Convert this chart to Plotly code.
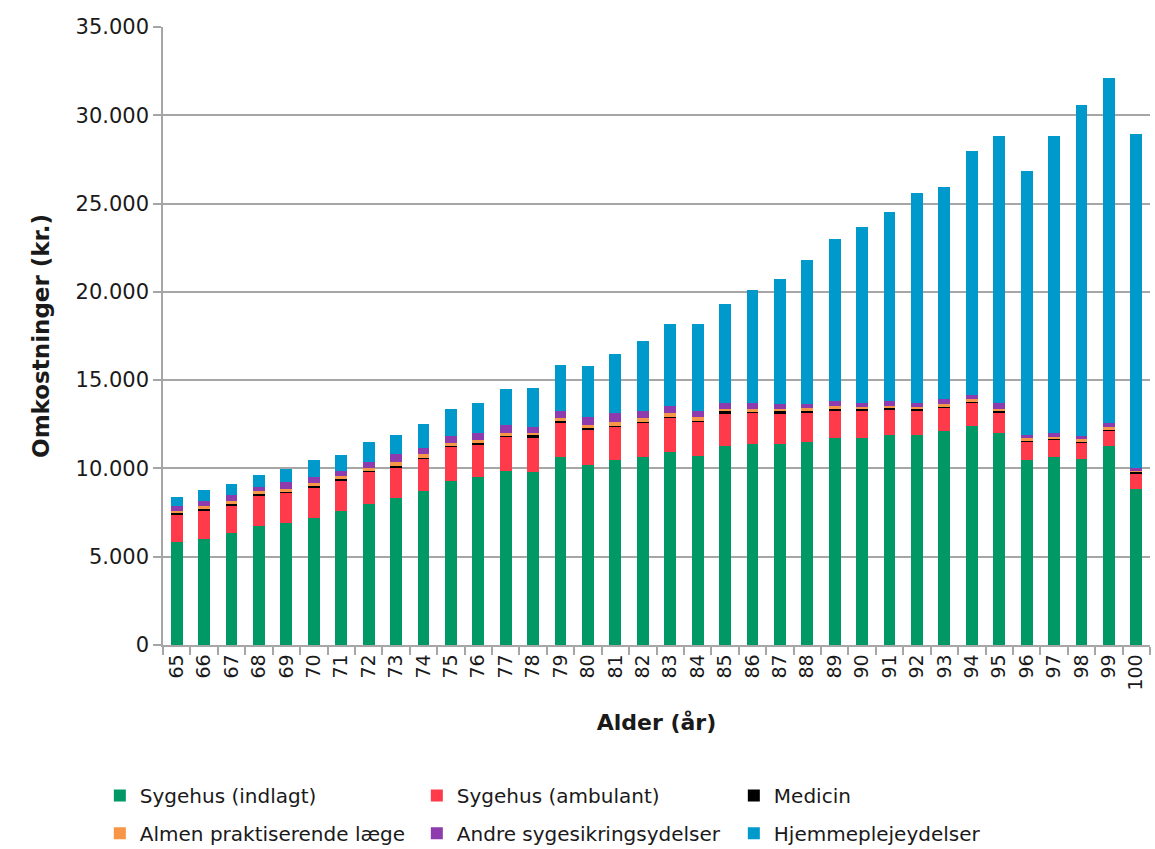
import plotly.graph_objects as go

ages = [str(a) for a in range(65, 101)]

sygehus_indlagt = [5810, 5980, 6320, 6750, 6920, 7200, 7580, 8010, 8310, 8710, 9280, 9520,
                   9860, 9770, 10650, 10180, 10460, 10650, 10930, 10710, 11270, 11370, 11370, 11470,
                   11740, 11740, 11870, 11870, 12120, 12380, 12020, 10470, 10640, 10530, 11280, 8830]
sygehus_ambulant = [1580, 1660, 1600, 1680, 1690, 1720, 1700, 1790, 1770, 1830, 1940, 1850,
                    1920, 1970, 1950, 1970, 1890, 1930, 1950, 1920, 1830, 1770, 1730, 1670,
                    1560, 1560, 1470, 1430, 1280, 1340, 1170, 1080, 1000, 960, 890, 850]
medicin = [60, 60, 60, 130, 60, 60, 130, 60, 60, 60, 60, 60,
           60, 140, 60, 140, 60, 60, 60, 60, 140, 60, 130, 130,
           60, 60, 60, 60, 130, 60, 60, 50, 50, 50, 50, 120]
almen_laege = [160, 170, 190, 150, 190, 190, 160, 180, 210, 190, 180, 190,
               190, 150, 190, 180, 210, 190, 180, 200, 140, 170, 140, 130,
               160, 140, 150, 130, 110, 130, 140, 100, 100, 100, 100, 60]
andre_ydelser = [250, 290, 310, 240, 380, 350, 290, 330, 440, 370, 360, 410,
                 410, 320, 430, 430, 530, 430, 400, 390, 330, 340, 300, 270,
                 310, 230, 280, 240, 290, 240, 290, 210, 230, 210, 230, 140]
hjemmepleje = [530, 610, 630, 700, 750, 940, 890, 1100, 1130, 1380, 1530, 1700,
               2040, 2230, 2600, 2900, 3310, 3930, 4680, 4920, 5620, 6410, 7080, 8130,
               9150, 9940, 10680, 11880, 11990, 13830, 15150, 14940, 16810, 18750, 19580, 18940]

series = [
    ("Sygehus (indlagt)", sygehus_indlagt, "#009966", "legend"),
    ("Sygehus (ambulant)", sygehus_ambulant, "#FF3B4B", "legend"),
    ("Medicin", medicin, "#000000", "legend"),
    ("Almen praktiserende læge", almen_laege, "#F79646", "legend2"),
    ("Andre sygesikringsydelser", andre_ydelser, "#8E3BAD", "legend2"),
    ("Hjemmeplejeydelser", hjemmepleje, "#0099CC", "legend2"),
]

fig = go.Figure()
for name, vals, color, lg in series:
    fig.add_trace(go.Bar(x=ages, y=vals, name=name, legend=lg,
                         marker=dict(color=color, line=dict(width=0))))

grid = "#A6A6A6"
txt = "#1a1a1a"
legend_common = dict(
    orientation="h",
    x=-0.064, xanchor="left",
    yanchor="top",
    traceorder="normal",
    entrywidth=272, entrywidthmode="pixels",
    font=dict(size=20, color=txt, family="DejaVu Sans"),
    itemwidth=30,
    bgcolor="rgba(0,0,0,0)",
)
fig.update_layout(
    barmode="stack",
    bargap=0.57,
    width=1155, height=849,
    margin=dict(l=163, r=5, t=27, b=204, autoexpand=False),
    paper_bgcolor="white", plot_bgcolor="white",
    separators=",.",
    font=dict(family="DejaVu Sans", color=txt),
    legend=dict(legend_common, y=-0.212),
    legend2=dict(legend_common, y=-0.273),
    xaxis=dict(
        type="category",
        tickangle=-90,
        tickson="boundaries",
        ticks="outside", ticklen=8, tickcolor=grid, tickwidth=1.5,
        showline=True, linecolor=grid, linewidth=1.5,
        showgrid=False,
        tickfont=dict(size=19, color=txt),
        title=dict(text="<b>Alder (år)</b>", font=dict(size=22, color=txt), standoff=25),
    ),
    yaxis=dict(
        range=[0, 35000], dtick=5000, tickformat=",d",
        ticks="outside", ticklen=8, tickcolor=grid, tickwidth=1.5,
        showline=True, linecolor=grid, linewidth=1.5,
        showgrid=True, gridcolor=grid, gridwidth=1.5,
        zeroline=False,
        tickfont=dict(size=21, color=txt),
        title=dict(text="<b>Omkostninger (kr.)</b>", font=dict(size=23, color=txt), standoff=20),
    ),
)

fig.write_html("out.html")
